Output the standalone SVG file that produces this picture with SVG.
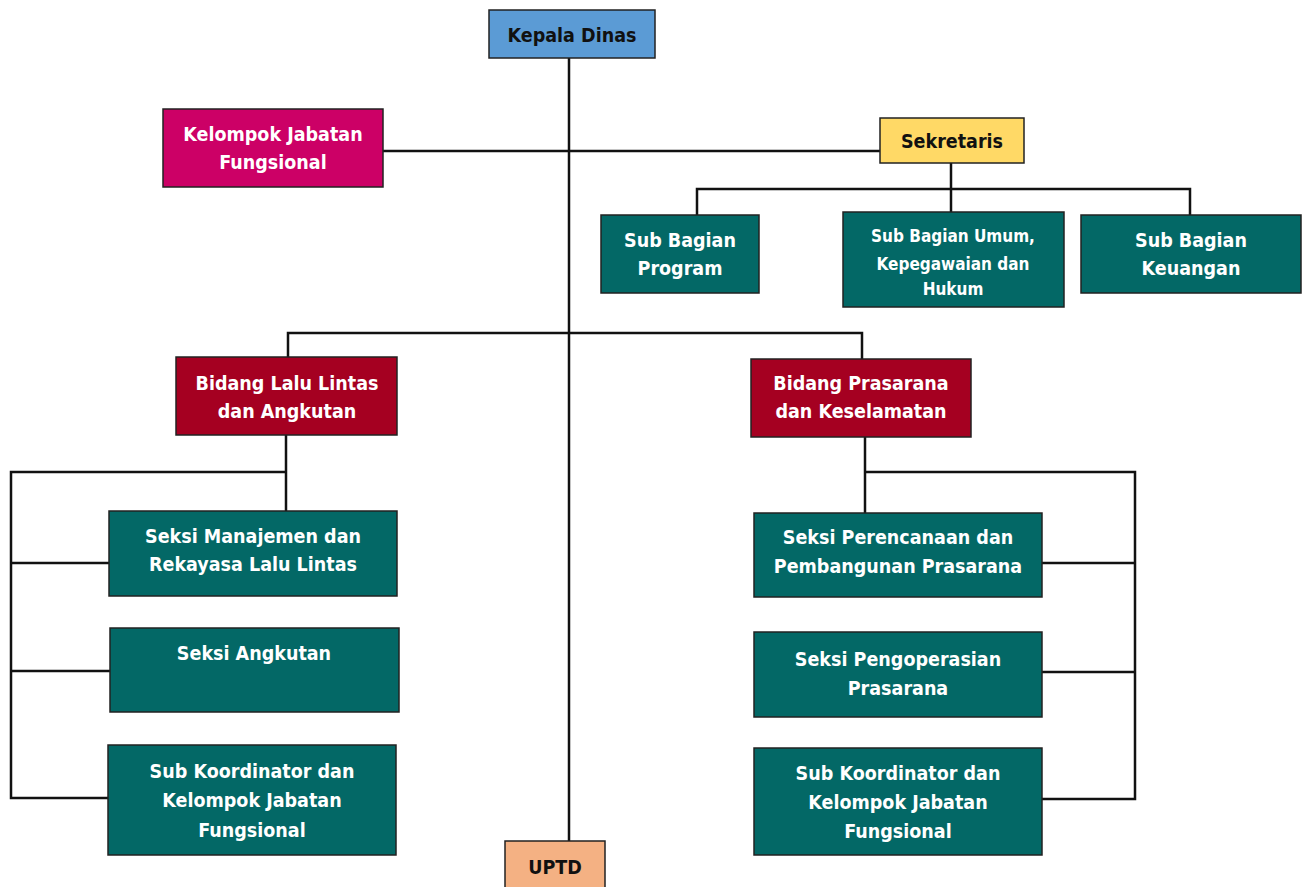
<svg xmlns="http://www.w3.org/2000/svg" width="1308" height="887" viewBox="0 0 1308 887">
<style>
.n{stroke:#222;stroke-width:1.5}
.t{font-family:"DejaVu Sans Condensed","DejaVu Sans","Liberation Sans",sans-serif;font-weight:bold;font-size:19.5px;text-anchor:middle}
.s{font-size:17px}
.w{fill:#fff}
.k{fill:#111}
.teal{fill:#036866}
.red{fill:#a50021}
.c line,.c polyline{stroke:#111;stroke-width:2.5;fill:none}
</style>
<rect x="0" y="0" width="1308" height="887" fill="#fff"/>
<g class="c" id="connectors">
<line x1="569" y1="58" x2="569" y2="841"/>
<line x1="383" y1="151" x2="880" y2="151"/>
<line x1="951" y1="163" x2="951" y2="212"/>
<polyline points="697,215 697,189 1190,189 1190,215"/>
<polyline points="288,357 288,333 862,333 862,359"/>
<line x1="286" y1="435" x2="286" y2="511"/>
<polyline points="286,472 11,472 11,798 108,798"/>
<line x1="11" y1="563" x2="109" y2="563"/>
<line x1="11" y1="671" x2="110" y2="671"/>
<line x1="865" y1="437" x2="865" y2="513"/>
<polyline points="865,472 1135,472 1135,799 1042,799"/>
<line x1="1042" y1="563" x2="1135" y2="563"/>
<line x1="1042" y1="672" x2="1135" y2="672"/>
</g>
<g id="kepala"><rect class="n" x="489" y="10" width="166" height="48" fill="#5b9bd5"/><text class="t k" x="572" y="42">Kepala Dinas</text></g>
<g id="kjf"><rect class="n" x="163" y="109" width="220" height="78" fill="#cc0066"/><text class="t w" x="273" y="141">Kelompok Jabatan</text><text class="t w" x="273" y="169">Fungsional</text></g>
<g id="sekretaris"><rect class="n" x="880" y="118" width="144" height="45" fill="#ffd966"/><text class="t k" x="952" y="148">Sekretaris</text></g>
<g id="sbprogram"><rect class="n teal" x="601" y="215" width="158" height="78"/><text class="t w" x="680" y="247">Sub Bagian</text><text class="t w" x="680" y="275">Program</text></g>
<g id="sbumum"><rect class="n teal" x="843" y="212" width="221" height="95"/><text class="t s w" x="953" y="242">Sub Bagian Umum,</text><text class="t s w" x="953" y="270">Kepegawaian dan</text><text class="t s w" x="953" y="295">Hukum</text></g>
<g id="sbkeuangan"><rect class="n teal" x="1081" y="215" width="220" height="78"/><text class="t w" x="1191" y="247">Sub Bagian</text><text class="t w" x="1191" y="275">Keuangan</text></g>
<g id="bidang1"><rect class="n red" x="176" y="357" width="221" height="78"/><text class="t w" x="287" y="390">Bidang Lalu Lintas</text><text class="t w" x="287" y="418">dan Angkutan</text></g>
<g id="bidang2"><rect class="n red" x="751" y="359" width="220" height="78"/><text class="t w" x="861" y="390">Bidang Prasarana</text><text class="t w" x="861" y="418">dan Keselamatan</text></g>
<g id="seksi1"><rect class="n teal" x="109" y="511" width="288" height="85"/><text class="t w" x="253" y="543">Seksi Manajemen dan</text><text class="t w" x="253" y="571">Rekayasa Lalu Lintas</text></g>
<g id="seksi2"><rect class="n teal" x="110" y="628" width="289" height="84"/><text class="t w" x="254" y="660">Seksi Angkutan</text></g>
<g id="subkoor1"><rect class="n teal" x="108" y="745" width="288" height="110"/><text class="t w" x="252" y="778">Sub Koordinator dan</text><text class="t w" x="252" y="807">Kelompok Jabatan</text><text class="t w" x="252" y="837">Fungsional</text></g>
<g id="seksi3"><rect class="n teal" x="754" y="513" width="288" height="84"/><text class="t w" x="898" y="544">Seksi Perencanaan dan</text><text class="t w" x="898" y="573">Pembangunan Prasarana</text></g>
<g id="seksi4"><rect class="n teal" x="754" y="632" width="288" height="85"/><text class="t w" x="898" y="666">Seksi Pengoperasian</text><text class="t w" x="898" y="695">Prasarana</text></g>
<g id="subkoor2"><rect class="n teal" x="754" y="748" width="288" height="107"/><text class="t w" x="898" y="780">Sub Koordinator dan</text><text class="t w" x="898" y="809">Kelompok Jabatan</text><text class="t w" x="898" y="838">Fungsional</text></g>
<g id="uptd"><rect class="n" x="505" y="841" width="100" height="50" fill="#f4b183"/><text class="t k" x="555" y="874">UPTD</text></g>
</svg>
